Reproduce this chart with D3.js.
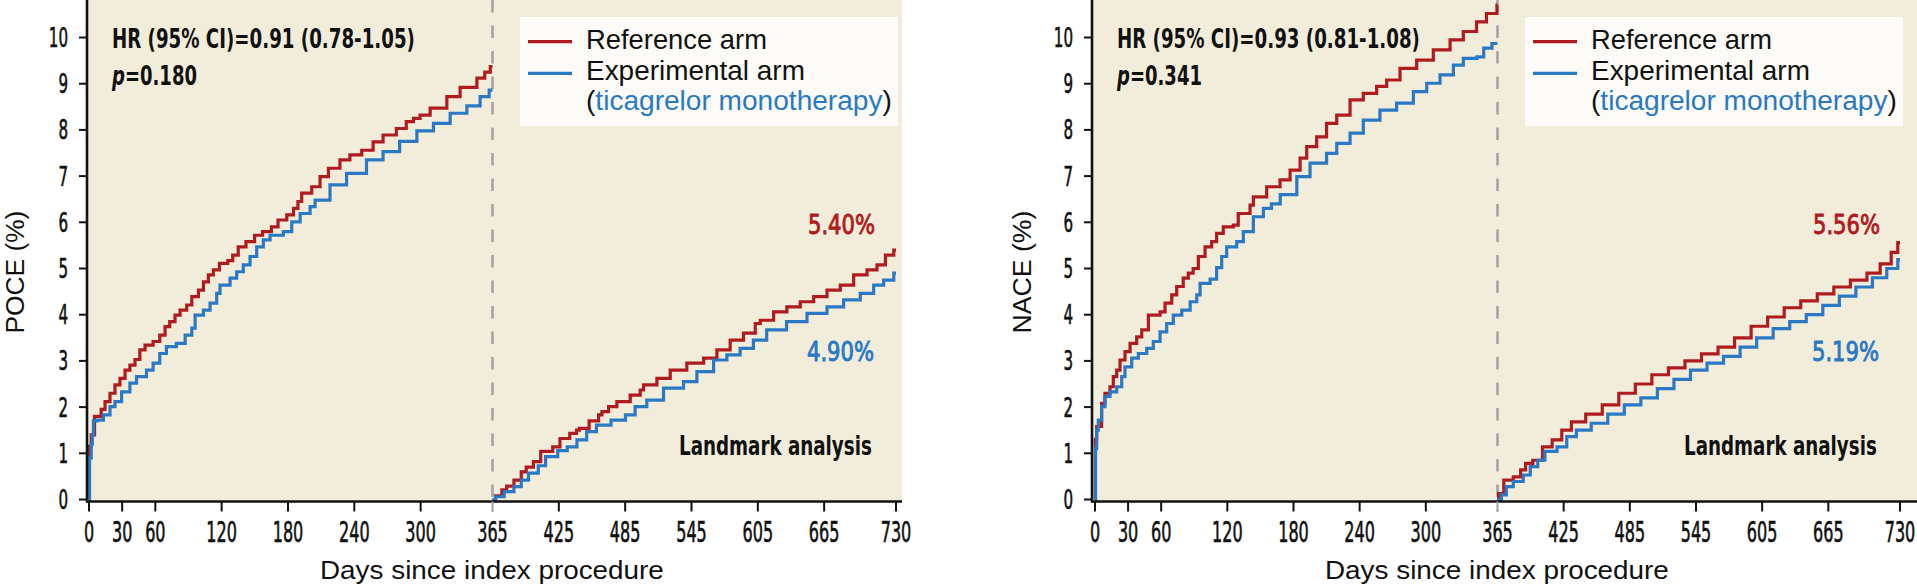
<!DOCTYPE html>
<html>
<head>
<meta charset="utf-8">
<script src="https://cdn.jsdelivr.net/npm/d3@7"></script>
<style>
  html, body { margin: 0; padding: 0; background: #ffffff; }
  svg { display: block; }
</style>
</head>
<body>
<svg id="chart" width="1917" height="588"></svg>
<script>
// ---------------- DATA ----------------
const xTickValues = [0, 30, 60, 120, 180, 240, 300, 365, 425, 485, 545, 605, 665, 730];
const yTickValues = [0, 1, 2, 3, 4, 5, 6, 7, 8, 9, 10];
const landmarkDay = 365;

// POCE panel (day, cumulative %)
const poceRefYear1 = [[0,0],[0.3,1.15],[2,1.4],[5,1.8],[11,1.95],[14.5,2.12],[19,2.3],[23.5,2.48],[28,2.62],[32.6,2.8],[37,2.91],[41.6,3.03],[46,3.24],[50.7,3.34],[58,3.42],[64,3.56],[68.8,3.74],[73,3.85],[77.8,3.99],[82.4,4.1],[88.4,4.21],[93,4.39],[99,4.53],[103.5,4.71],[108,4.86],[112.5,4.97],[118,5.11],[125.6,5.17],[130,5.29],[135,5.47],[142,5.58],[149.8,5.72],[157,5.8],[165,5.9],[171,6.05],[178.9,6.16],[185,6.3],[189,6.45],[192.4,6.63],[201.5,6.77],[209,6.99],[216.6,7.17],[227,7.35],[236,7.46],[246.7,7.56],[257,7.74],[266,7.89],[278,8.03],[287,8.18],[293.5,8.25],[299.5,8.32],[308.6,8.47],[323.7,8.72],[335.7,8.92],[350.9,9.12],[358,9.25],[363,9.37],[365,9.37]];
const poceExpYear1 = [[0,0],[0.5,0.9],[2,1.2],[3,1.4],[4,1.7],[7,1.72],[13,1.83],[19,2.01],[23.5,2.12],[29.5,2.33],[37,2.52],[43,2.66],[52,2.8],[58,2.95],[64,3.16],[70,3.31],[79,3.38],[87,3.56],[93,3.71],[96,3.99],[103.5,4.1],[109.5,4.25],[115.5,4.46],[118.5,4.64],[127.6,4.79],[133.6,4.93],[139.6,5.08],[145.7,5.26],[151.7,5.47],[157.7,5.62],[163.8,5.72],[175.8,5.8],[183.4,6.01],[191,6.19],[200,6.34],[204.5,6.48],[218,6.81],[233,7.06],[251,7.35],[266,7.53],[281,7.75],[296.6,7.98],[311.6,8.14],[326.7,8.36],[341.8,8.52],[353.8,8.72],[362,8.86],[365,8.86]];
const poceRefYear2 = [[365,0],[367.8,0.08],[373.5,0.21],[377.8,0.29],[384.4,0.42],[391,0.6],[395.5,0.7],[402,0.82],[408.6,1.04],[419.5,1.14],[426,1.32],[434.9,1.43],[441,1.5],[443.6,1.54],[452.4,1.7],[461,1.83],[464,1.9],[470,2.01],[477.5,2.12],[489.6,2.26],[498.6,2.37],[501.6,2.48],[513.7,2.62],[525.8,2.8],[540.8,2.95],[556,3.06],[568,3.24],[580,3.45],[592,3.6],[602.7,3.81],[607.2,3.88],[619.3,4.06],[631.3,4.17],[643.4,4.28],[655.5,4.39],[667.6,4.53],[679.6,4.64],[691.7,4.86],[703.8,4.97],[712.8,5.08],[720.4,5.29],[728,5.4],[730,5.4]];
const poceExpYear2 = [[365,0],[367.8,0.06],[375.6,0.17],[384.4,0.28],[391,0.42],[397.6,0.57],[406.4,0.73],[413,0.93],[424,1.06],[432.6,1.14],[441.4,1.29],[450.2,1.47],[459,1.61],[472.2,1.72],[485.3,1.83],[494,2.01],[504.6,2.15],[519.7,2.41],[537.8,2.55],[549.9,2.77],[565,3.02],[577,3.13],[589,3.27],[601,3.45],[613,3.67],[631,3.85],[649.5,4.03],[667.6,4.17],[682.6,4.32],[697.7,4.46],[709.8,4.64],[718.8,4.75],[728,4.9],[730,4.9]];

// NACE panel (day, cumulative %)
const naceRefYear1 = [[0,0],[0.3,1.3],[1.5,1.58],[6,2.08],[9,2.3],[13.6,2.44],[16.6,2.66],[19.7,2.8],[22.7,3.02],[27.2,3.2],[31.8,3.38],[37.8,3.52],[42.4,3.67],[48.4,3.99],[59,4.06],[63.5,4.25],[69.6,4.43],[74.1,4.61],[80,4.79],[84.6,4.9],[89,5.0],[93.7,5.26],[99.8,5.47],[105.8,5.58],[110.3,5.76],[116.3,5.9],[125.4,5.94],[129.9,6.19],[140.6,6.37],[143.6,6.55],[155.7,6.77],[167.8,6.92],[176.9,7.13],[186,7.39],[192,7.64],[201,7.85],[210,8.14],[219.2,8.32],[231.3,8.65],[243.3,8.79],[255.4,8.94],[264.5,9.08],[276.6,9.33],[291.7,9.51],[306.8,9.73],[322,9.95],[334,10.13],[346,10.34],[355,10.52],[364.5,10.7],[365,10.7]];
const naceExpYear1 = [[0,0],[0.5,1.1],[1.5,1.5],[3,1.72],[6,2.01],[9,2.23],[13.6,2.33],[19.7,2.44],[24.2,2.66],[27.2,2.87],[33.3,3.06],[39.3,3.16],[46.9,3.27],[52.9,3.42],[59,3.63],[65,3.81],[71,3.99],[78.7,4.1],[86.3,4.28],[92.3,4.43],[95.3,4.68],[104.4,4.77],[110.3,5.02],[114.9,5.26],[119.4,5.47],[128.5,5.58],[134.5,5.8],[143.6,6.12],[152.7,6.3],[160,6.4],[168,6.6],[183,6.99],[195,7.28],[210,7.49],[219.2,7.71],[231.3,7.93],[243.3,8.21],[258.4,8.43],[273.5,8.58],[288.7,8.83],[300.8,9.01],[312.9,9.19],[325,9.4],[334,9.55],[346.4,9.58],[352.5,9.77],[360,9.87],[365,9.87]];
const naceRefYear2 = [[365,0],[366,0.13],[370.7,0.42],[379.3,0.49],[386,0.64],[390.5,0.78],[397,0.85],[405.8,1.14],[414.6,1.29],[423.3,1.5],[432,1.68],[445,1.85],[460,2.05],[475,2.3],[490,2.5],[505,2.7],[520,2.85],[535,3.0],[550,3.15],[565,3.3],[580,3.5],[595,3.75],[610,3.95],[625,4.15],[640,4.3],[655,4.45],[670,4.6],[685,4.75],[700,4.9],[712,5.1],[722,5.35],[728,5.56],[730,5.56]];
const naceExpYear2 = [[365,0],[368.5,0.1],[373,0.28],[379.3,0.39],[388.3,0.53],[394.7,0.71],[401.5,0.85],[408,1.04],[419,1.14],[427.8,1.36],[436.5,1.5],[450,1.65],[465,1.85],[480,2.05],[495,2.2],[510,2.4],[525,2.6],[540,2.8],[555,2.95],[570,3.1],[585,3.3],[600,3.5],[615,3.7],[630,3.85],[645,4.0],[660,4.2],[675,4.4],[690,4.6],[705,4.8],[718,5.0],[728,5.19],[730,5.19]];

const panelNames = ["POCE (%)", "NACE (%)"];
const hrTexts = ["HR (95% CI)=0.91 (0.78-1.05)", "HR (95% CI)=0.93 (0.81-1.08)"];
const pTexts = ["=0.180", "=0.341"];
const refEndLabels = ["5.40%", "5.56%"];
const expEndLabels = ["4.90%", "5.19%"];
const legendLabels = ["Reference arm", "Experimental arm", "ticagrelor monotherapy"];

// ---------------- STYLE ----------------
const RED = "#b01b20";
const BLUE = "#2a79c4";
const BG = "#f2eddb";
const COND = "'Liberation Sans Narrow','DejaVu Sans Condensed','Liberation Sans',sans-serif";
const SANS = "'Liberation Sans','Arial',sans-serif";

const svg = d3.select("#chart");

// place a text so that it spans exactly width w (horizontal scale only)
function fit(sel, x, y, w, anchor, extra) {
  sel.attr("x", 0).attr("y", 0).attr("text-anchor", "start");
  const n = sel.node().getComputedTextLength();
  const s = w / n;
  let tx = x;
  if (anchor === "end") tx = x - w;
  else if (anchor === "middle") tx = x - w / 2;
  if (extra) {
    sel.attr("transform", `translate(${x},${y}) ${extra} translate(${tx - x},0) scale(${s},1)`);
  } else {
    sel.attr("transform", `translate(${tx},${y}) scale(${s},1)`);
  }
  return sel;
}

const panels = [
  { off: 0,    x0: 89,   x1: 896,  axisX: 87,   right: 902,
    ref1: poceRefYear1, exp1: poceExpYear1, ref2: poceRefYear2, exp2: poceExpYear2 },
  { off: 1005, x0: 1095, x1: 1900, axisX: 1092, right: 1917,
    ref1: naceRefYear1, exp1: naceExpYear1, ref2: naceRefYear2, exp2: naceExpYear2 }
];

const y = d3.scaleLinear().domain([0, 10]).range([499.5, 37.5]);
const axisY = 501.5;

panels.forEach((p, i) => {
  const x = d3.scaleLinear().domain([0, 730]).range([p.x0, p.x1]);
  const g = svg.append("g");

  // background
  g.append("rect").attr("x", p.axisX).attr("y", 0)
    .attr("width", p.right - p.axisX).attr("height", axisY).attr("fill", BG);

  // landmark dashed line
  g.append("line").attr("x1", x(landmarkDay)).attr("x2", x(landmarkDay))
    .attr("y1", 0).attr("y2", axisY + 10)
    .attr("stroke", "#a3a3a3").attr("stroke-width", 2.6)
    .attr("stroke-dasharray", "12.5,13");

  // curves
  const line = d3.line().x(d => x(d[0])).y(d => y(d[1])).curve(d3.curveStepAfter);
  [[p.ref1, RED], [p.exp1, BLUE], [p.ref2, RED], [p.exp2, BLUE]].forEach(([data, col]) => {
    g.append("path").datum(data).attr("d", line)
      .attr("fill", "none").attr("stroke", col).attr("stroke-width", 3.2)
      .attr("stroke-linejoin", "miter").attr("stroke-linecap", "butt");
  });

  // axes lines
  g.append("line").attr("x1", p.axisX).attr("x2", p.axisX).attr("y1", 0).attr("y2", axisY + 1)
    .attr("stroke", "#111").attr("stroke-width", 2.6);
  g.append("line").attr("x1", p.axisX - 1).attr("x2", p.right).attr("y1", axisY).attr("y2", axisY)
    .attr("stroke", "#111").attr("stroke-width", 2.6);

  // y ticks
  yTickValues.forEach(v => {
    g.append("line").attr("x1", p.axisX - 8).attr("x2", p.axisX).attr("y1", y(v)).attr("y2", y(v))
      .attr("stroke", "#111").attr("stroke-width", 2);
    const s = String(v);
    const t = g.append("text")
      .attr("font-family", COND).attr("font-size", 26.5).attr("fill", "#111")
      .attr("stroke", "#111").attr("stroke-width", 0.6).text(s);
    fit(t, p.axisX - 19, y(v) + 9.5, s.length * 9.6, "end");
  });

  // x ticks
  xTickValues.forEach(v => {
    g.append("line").attr("x1", x(v)).attr("x2", x(v)).attr("y1", axisY).attr("y2", axisY + 10)
      .attr("stroke", v === landmarkDay ? "#a3a3a3" : "#111").attr("stroke-width", 2);
    const s = String(v);
    const t = g.append("text")
      .attr("font-family", COND).attr("font-size", 27.5).attr("fill", "#111")
      .attr("stroke", "#111").attr("stroke-width", 0.6).text(s);
    fit(t, x(v), 542, s.length * 10.2, "middle");
  });

  // axis titles
  const xt = g.append("text").attr("font-family", SANS).attr("font-size", 26.5)
    .attr("fill", "#111").text("Days since index procedure");
  fit(xt, 492 + p.off, 579, 344, "middle");
  const yt = g.append("text").attr("font-family", SANS).attr("font-size", 26.5)
    .attr("fill", "#111").text(panelNames[i]);
  fit(yt, 24 + p.off + (i === 1 ? 2 : 0), 272, 123, "middle", "rotate(-90)");

  // HR text
  const hr = g.append("text").attr("font-family", COND).attr("font-weight", "bold")
    .attr("font-size", 26.5).attr("fill", "#111").text(hrTexts[i]);
  fit(hr, 112 + p.off, 48, 303, "start");
  const pt = g.append("text").attr("font-family", COND).attr("font-weight", "bold")
    .attr("font-size", 26.5).attr("fill", "#111");
  pt.append("tspan").attr("font-style", "italic").text("p");
  pt.append("tspan").text(pTexts[i]);
  fit(pt, 112 + p.off, 85, 85, "start");

  // end labels
  const r1 = g.append("text").attr("font-family", COND).attr("font-size", 27)
    .attr("fill", RED).attr("stroke", RED).attr("stroke-width", 0.9).text(refEndLabels[i]);
  fit(r1, 875 + p.off, 234, 67, "end");
  const e1 = g.append("text").attr("font-family", COND).attr("font-size", 27)
    .attr("fill", BLUE).attr("stroke", BLUE).attr("stroke-width", 0.9).text(expEndLabels[i]);
  fit(e1, 874 + p.off, 361, 67, "end");

  // landmark label
  const lm = g.append("text").attr("font-family", COND).attr("font-weight", "bold")
    .attr("font-size", 27).attr("fill", "#111").text("Landmark analysis");
  fit(lm, 872 + p.off, 455, 193, "end");

  // legend
  const lx = p.off;
  g.append("rect").attr("x", 520 + lx).attr("y", 17).attr("width", 378).attr("height", 109)
    .attr("fill", "#fcfbf7");
  g.append("line").attr("x1", 528 + lx).attr("x2", 572 + lx).attr("y1", 41.7).attr("y2", 41.7)
    .attr("stroke", RED).attr("stroke-width", 3.2);
  g.append("line").attr("x1", 528 + lx).attr("x2", 572 + lx).attr("y1", 73.3).attr("y2", 73.3)
    .attr("stroke", BLUE).attr("stroke-width", 3.2);
  const l1 = g.append("text").attr("font-family", SANS).attr("font-size", 27.5)
    .attr("fill", "#111").text(legendLabels[0]);
  fit(l1, 586 + lx, 49, 181, "start");
  const l2 = g.append("text").attr("font-family", SANS).attr("font-size", 27.5)
    .attr("fill", "#111").text(legendLabels[1]);
  fit(l2, 586 + lx, 80, 219, "start");
  const l3 = g.append("text").attr("font-family", SANS).attr("font-size", 27.5).attr("fill", "#111");
  l3.append("tspan").text("(");
  l3.append("tspan").attr("fill", BLUE).text(legendLabels[2]);
  l3.append("tspan").text(")");
  fit(l3, 586 + lx, 110, 306, "start");
});
</script>
</body>
</html>
